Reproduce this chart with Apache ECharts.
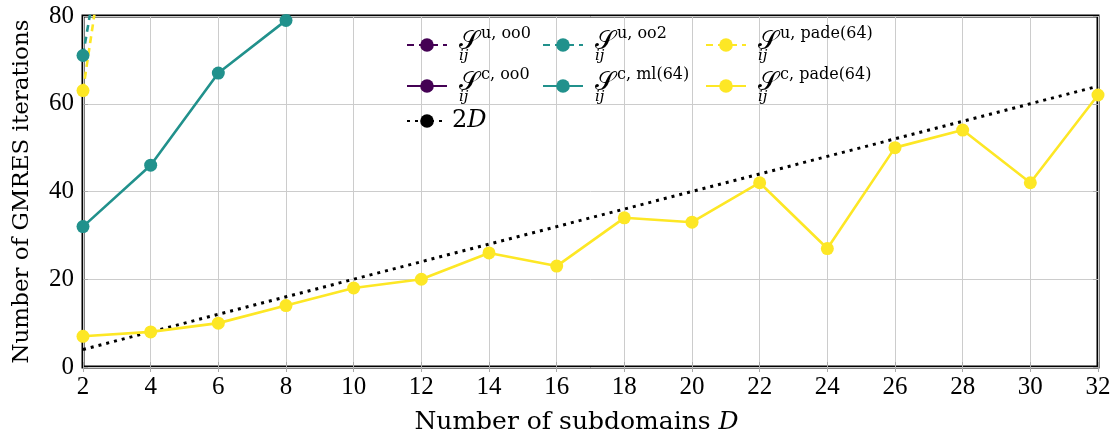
<!DOCTYPE html>
<html>
<head>
<meta charset="utf-8">
<script src="https://cdn.jsdelivr.net/npm/echarts@6/dist/echarts.min.js"></script>
<style>
  html, body { margin: 0; padding: 0; background: #ffffff; }
  #chart { width: 1118px; height: 439px; }
</style>
</head>
<body>
<div id="chart"></div>
<script>
// Number of subdomains D (x values)
const subdomains = [2, 4, 6, 8, 10, 12, 14, 16, 18, 20, 22, 24, 26, 28, 30, 32];
// y-axis tick values
const iterationTicks = [0, 20, 40, 60, 80];

// GMRES iteration counts per transmission condition (values above 80 fall outside the axis)
const uncoupledOo0 = [96, 190];
const coupledOo0 = [88, 172];
const uncoupledOo2 = [71, 162];
const coupledMl64 = [32, 46, 67, 79, 118];
const uncoupledPade64 = [63, 166];
const coupledPade64 = [7, 8, 10, 14, 18, 20, 26, 23, 34, 33, 42, 27, 50, 54, 42, 62];
// reference line 2D
const twoD = [4, 8, 12, 16, 20, 24, 28, 32, 36, 40, 44, 48, 52, 56, 60, 64];

const PURPLE = '#440154';
const TEAL = '#21918c';
const YELLOW = '#fde725';
const TEXT_SERIF = '"DejaVu Serif", "Liberation Serif", serif';
const NUM_SERIF = '"Liberation Serif", "DejaVu Serif", serif';

const pairs = vals => vals.map((v, i) => [subdomains[i], v]);

function lineSeries(name, vals, color, dashed) {
  return {
    name: name,
    type: 'line',
    data: pairs(vals),
    clip: true,
    symbol: 'circle',
    symbolSize: 13,
    showAllSymbol: true,
    lineStyle: { color: color, width: 2.6, type: dashed ? [7, 5] : 'solid' },
    itemStyle: { color: color },
    emphasis: { disabled: true },
    z: 3
  };
}

const richText = {
  S: { fontSize: 26, color: '#000', lineHeight: 38, verticalAlign: 'middle', padding: [0, 2, 6, 0] },
  sub: { fontFamily: TEXT_SERIF, fontSize: 15, fontStyle: 'italic', color: '#000', verticalAlign: 'bottom', width: 0, padding: [0, 0, 0, 7] },
  sup: { fontFamily: TEXT_SERIF, fontSize: 16, color: '#000', verticalAlign: 'top' },
  n: { fontFamily: TEXT_SERIF, fontSize: 25, color: '#000' },
  it: { fontFamily: TEXT_SERIF, fontSize: 25, fontStyle: 'italic', color: '#000' },
  n2: { fontFamily: TEXT_SERIF, fontSize: 24, color: '#000' },
  it2: { fontFamily: TEXT_SERIF, fontSize: 24, fontStyle: 'italic', color: '#000' }
};

function legendEntry(name, left, top) {
  return {
    data: [name],
    left: left,
    top: top,
    padding: 0,
    itemWidth: 40,
    itemHeight: 17,
    selectedMode: false,
    formatter: n => n === '2D' ? '{n2|2}{it2|D}' : '{sub|ij}{S|𝒮}{sup|' + n + '}',
    textStyle: { rich: richText }
  };
}

const axisLabelStyle = { fontFamily: NUM_SERIF, fontSize: 25, color: '#000' };
const tickStyle = { show: true, inside: true, length: 5, lineStyle: { color: '#aaaaaa', width: 1 } };

const option = {
  animation: false,
  backgroundColor: '#ffffff',
  grid: {
    left: 83, right: 20, top: 16, bottom: 72,
    outerBoundsMode: 'none',
    containLabel: false,
    show: true, borderColor: '#000', borderWidth: 3, backgroundColor: 'transparent'
  },
  legend: [
    legendEntry('u, oo0', 406, 26),
    legendEntry('u, oo2', 542, 26),
    legendEntry('u, pade(64)', 705, 26),
    legendEntry('c, oo0', 406, 67),
    legendEntry('c, ml(64)', 542, 67),
    legendEntry('c, pade(64)', 705, 67),
    legendEntry('2D', 406, 109)
  ],
  xAxis: [{
    type: 'value',
    min: subdomains[0], max: subdomains[subdomains.length - 1], interval: 2,
    axisLine: { show: false },
    axisTick: tickStyle,
    axisLabel: Object.assign({ margin: 8 }, axisLabelStyle),
    splitLine: { show: true, lineStyle: { color: '#cccccc', width: 1 } },
    name: '{n|Number of subdomains }{it|D}',
    nameLocation: 'middle',
    nameGap: 43,
    nameTextStyle: { rich: richText, padding: [0, 28, 0, 0] }
  }, {
    type: 'value', position: 'top',
    min: subdomains[0], max: subdomains[subdomains.length - 1], interval: 2,
    axisLine: { show: false }, axisTick: tickStyle,
    axisLabel: { show: false }, splitLine: { show: false }
  }],
  yAxis: [{
    type: 'value',
    min: iterationTicks[0], max: iterationTicks[iterationTicks.length - 1], interval: 20,
    axisLine: { show: false },
    axisTick: tickStyle,
    axisLabel: Object.assign({ margin: 9 }, axisLabelStyle),
    splitLine: { show: true, lineStyle: { color: '#cccccc', width: 1 } },
    name: 'Number of GMRES iterations',
    nameLocation: 'middle',
    nameGap: 49,
    nameTextStyle: { fontFamily: TEXT_SERIF, fontSize: 23, color: '#000' }
  }, {
    type: 'value', position: 'right',
    min: iterationTicks[0], max: iterationTicks[iterationTicks.length - 1], interval: 20,
    axisLine: { show: false }, axisTick: tickStyle,
    axisLabel: { show: false }, splitLine: { show: false }
  }],
  series: [
    lineSeries('u, oo0', uncoupledOo0, PURPLE, true),
    lineSeries('u, oo2', uncoupledOo2, TEAL, true),
    lineSeries('u, pade(64)', uncoupledPade64, YELLOW, true),
    lineSeries('c, oo0', coupledOo0, PURPLE, false),
    lineSeries('c, ml(64)', coupledMl64, TEAL, false),
    lineSeries('c, pade(64)', coupledPade64, YELLOW, false),
    {
      name: '2D',
      type: 'line',
      data: pairs(twoD),
      symbol: 'none',
      lineStyle: { color: '#000', width: 3, type: [3, 5] },
      itemStyle: { color: '#000' },
      emphasis: { disabled: true },
      z: 2
    }
  ]
};

const chart = echarts.init(document.getElementById('chart'), null, { renderer: 'canvas' });
chart.setOption(option);
</script>
</body>
</html>
